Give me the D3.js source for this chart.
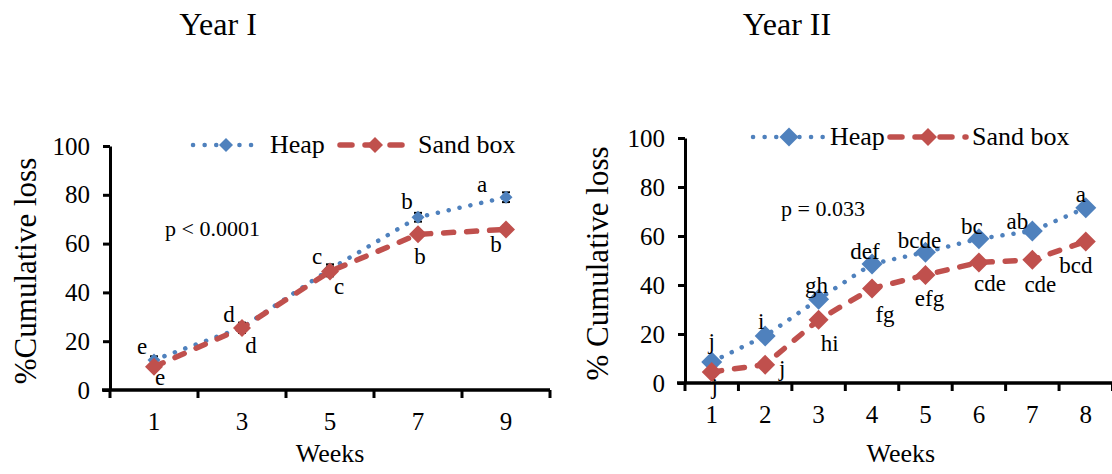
<!DOCTYPE html>
<html>
<head>
<meta charset="utf-8">
<script src="https://cdn.jsdelivr.net/npm/d3@7"></script>
<style>
  body { margin: 0; background: #fff; }
  svg { display: block; }
</style>
</head>
<body>
<div id="chart"></div>
<script>
// ---- data ----
const yTicks = [0, 20, 40, 60, 80, 100];
const seriesNames = ["Heap", "Sand box"];

const weeksI = ["1", "3", "5", "7", "9"];
const heapI = [12.3, 25.6, 49.5, 70.8, 79.0];
const sandI = [9.5, 25.4, 48.6, 63.8, 65.8];
const heapErrI = [1.5, 2, 2, 1.8, 2];
const sandErrI = [1.2, 2, 2, 1.5, 1.5];
const heapLettersI = ["e", "d", "c", "b", "a"];
const sandLettersI = ["e", "d", "c", "b", "b"];

const weeksII = ["1", "2", "3", "4", "5", "6", "7", "8"];
const heapII = [8.6, 19.2, 34.2, 48.6, 53.4, 58.9, 62.0, 71.5];
const sandII = [4.5, 7.5, 25.8, 38.6, 44.1, 49.2, 50.3, 57.8];
const heapLettersII = ["j", "i", "gh", "def", "bcde", "bc", "ab", "a"];
const sandLettersII = ["j", "j", "hi", "fg", "efg", "cde", "cde", "bcd"];

// ---- look ----
const FONT = '"Liberation Serif", "Times New Roman", serif';
const colors = { heap: "#4f81bd", sand: "#c0504d", axis: "#000", text: "#000" };

const W = 1112, H = 474;
const svg = d3.select("#chart").append("svg")
    .attr("viewBox", [0, 0, W, H])
    .attr("width", W)
    .attr("height", H)
    .attr("font-family", FONT);

const diamond = r => `M0,${-r}L${r},0L0,${r}L${-r},0Z`;

function drawChart(o) {
    const x = d3.scaleBand().domain(o.weeks).range([o.left, o.right]).padding(0);
    const y = d3.scaleLinear().domain([0, 100]).range([o.bottom, o.top]);
    const cx = d => x(d) + x.bandwidth() / 2;
    const g = svg.append("g").attr("font-family", FONT);

    // title
    g.append("text")
        .attr("x", o.titleX).attr("y", 35)
        .attr("text-anchor", "middle")
        .attr("font-size", 32)
        .text(o.title);

    // y axis
    const ya = g.append("g")
        .attr("transform", `translate(${o.left},0)`)
        .call(d3.axisLeft(y).tickValues(yTicks).tickSize(7).tickSizeOuter(0).tickPadding(13))
        .attr("font-family", FONT).attr("font-size", 25);
    ya.select(".domain").attr("stroke-width", 3);
    ya.selectAll(".tick line").attr("stroke-width", 3);
    ya.selectAll("text").attr("fill", colors.text);

    // x axis (labels centered in each band, ticks on band edges)
    const xa = g.append("g")
        .attr("transform", `translate(0,${o.bottom})`)
        .call(d3.axisBottom(x).tickSize(0).tickSizeOuter(0).tickPadding(22))
        .attr("font-family", FONT).attr("font-size", 25);
    xa.select(".domain").attr("stroke-width", 3.5).attr("d", `M${o.left - 8},0H${o.right}`);
    xa.selectAll("text").attr("fill", colors.text);
    const edges = o.weeks.map(d => x(d)).concat([o.right]);
    xa.selectAll(".edge").data(edges).join("line")
        .attr("class", "edge")
        .attr("x1", d => d).attr("x2", d => d)
        .attr("y1", 0).attr("y2", 8)
        .attr("stroke", colors.axis).attr("stroke-width", 3);

    // axis titles
    g.append("text")
        .attr("transform", `translate(${o.yTitleX},${(o.top + o.bottom) / 2 + 3}) rotate(-90)`)
        .attr("text-anchor", "middle")
        .attr("font-size", 31)
        .text(o.yTitle);
    g.append("text")
        .attr("x", (o.left + o.right) / 2 + o.xTitleShift).attr("y", 462)
        .attr("text-anchor", "middle")
        .attr("font-size", 26)
        .text("Weeks");

    // p value
    g.append("text")
        .attr("x", o.pX).attr("y", o.pY)
        .attr("font-size", 22)
        .text(o.pText);

    const line = d3.line().x((d, i) => cx(o.weeks[i])).y(d => y(d));

    // heap series
    g.append("path").datum(o.heap)
        .attr("d", line).attr("fill", "none")
        .attr("stroke", colors.heap).attr("stroke-width", 4.5)
        .attr("stroke-linecap", "round").attr("stroke-dasharray", "0.1 11");
    if (o.heapErr) drawErr(g, o.heap, o.heapErr, o.weeks, cx, y);
    g.selectAll(".heapPt").data(o.heap).join("path")
        .attr("transform", (d, i) => `translate(${cx(o.weeks[i])},${y(d)})`)
        .attr("d", diamond(o.heapR)).attr("fill", colors.heap);

    // sand box series
    g.append("path").datum(o.sand)
        .attr("d", line).attr("fill", "none")
        .attr("stroke", colors.sand).attr("stroke-width", 5.5)
        .attr("stroke-linecap", "round").attr("stroke-dasharray", "10 13");
    if (o.sandErr) drawErr(g, o.sand, o.sandErr, o.weeks, cx, y);
    g.selectAll(".sandPt").data(o.sand).join("path")
        .attr("transform", (d, i) => `translate(${cx(o.weeks[i])},${y(d)})`)
        .attr("d", diamond(o.sandR)).attr("fill", colors.sand);

    // significance letters
    const letters = (vals, lab, offs) => g.append("g").selectAll("text").data(vals).join("text")
        .attr("x", (d, i) => cx(o.weeks[i]) + offs[i][0])
        .attr("y", (d, i) => y(d) + offs[i][1])
        .attr("text-anchor", "middle")
        .attr("dominant-baseline", "central")
        .attr("font-size", 23)
        .text((d, i) => lab[i]);
    letters(o.heap, o.heapLetters, o.heapOff);
    letters(o.sand, o.sandLetters, o.sandOff);

    // legend
    const lg = g.append("g").attr("transform", `translate(0,${o.legY})`);
    lg.append("line").attr("x1", o.leg[0]).attr("x2", o.leg[1])
        .attr("stroke", colors.heap).attr("stroke-width", 4.5)
        .attr("stroke-linecap", "round").attr("stroke-dasharray", "0.1 11.5");
    lg.append("path").attr("transform", `translate(${(o.leg[0] + o.leg[1]) / 2},0)`)
        .attr("d", diamond(o.legHeapR)).attr("fill", colors.heap);
    lg.append("text").attr("x", o.leg[2]).attr("y", 8).attr("font-size", 26).text(seriesNames[0]);
    lg.append("line").attr("x1", o.leg[3]).attr("x2", o.leg[4])
        .attr("stroke", colors.sand).attr("stroke-width", 5.5)
        .attr("stroke-linecap", "round").attr("stroke-dasharray", "12 13");
    lg.append("path").attr("transform", `translate(${(o.leg[3] + o.leg[4]) / 2},0)`)
        .attr("d", diamond(o.legSandR)).attr("fill", colors.sand);
    lg.append("text").attr("x", o.leg[5]).attr("y", 8).attr("font-size", 26).text(seriesNames[1]);
}

function drawErr(g, vals, errs, weeks, cx, y) {
    const eg = g.append("g").attr("stroke", "#000").attr("stroke-width", 2);
    vals.forEach((v, i) => {
        const xc = cx(weeks[i]), y1 = y(v + errs[i]), y2 = y(v - errs[i]);
        eg.append("line").attr("x1", xc).attr("x2", xc).attr("y1", y1).attr("y2", y2);
        eg.append("line").attr("x1", xc - 4).attr("x2", xc + 4).attr("y1", y1).attr("y2", y1);
        eg.append("line").attr("x1", xc - 4).attr("x2", xc + 4).attr("y1", y2).attr("y2", y2);
    });
}

drawChart({
    title: "Year I", titleX: 218,
    weeks: weeksI, heap: heapI, sand: sandI, heapErr: heapErrI, sandErr: sandErrI,
    heapLetters: heapLettersI, sandLetters: sandLettersI,
    left: 110, right: 550, top: 146, bottom: 390,
    yTitle: "%Cumulative loss", yTitleX: 36, xTitleShift: 0,
    pText: "p < 0.0001", pX: 165, pY: 236,
    heapR: 6.5, sandR: 9,
    heapOff: [[-12, -13], [-13, -13], [-13, -13], [-11, -16], [-24, -13]],
    sandOff: [[6, 11], [9, 17], [9, 15], [2, 22], [-10, 15]],
    legY: 145, leg: [193, 259, 270, 340, 410, 418], legHeapR: 7, legSandR: 8
});

drawChart({
    title: "Year II", titleX: 787,
    weeks: weeksII, heap: heapII, sand: sandII,
    heapLetters: heapLettersII, sandLetters: sandLettersII,
    left: 685, right: 1112.5, top: 138, bottom: 383,
    yTitle: "% Cumulative loss", yTitleX: 608, xTitleShift: 2,
    pText: "p = 0.033", pX: 781, pY: 216,
    heapR: 10.5, sandR: 10,
    heapOff: [[0, -20], [-4, -14], [-2, -14], [-7, -12], [-6, -12], [-7, -12], [-15, -10], [-5, -13]],
    sandOff: [[3, 15], [17, 4], [11, 24], [13, 26], [4, 24], [11, 21], [8, 25], [-10, 24]],
    legY: 137, leg: [753, 825, 830, 890, 966, 972], legHeapR: 9.5, legSandR: 9
});
</script>
</body>
</html>
